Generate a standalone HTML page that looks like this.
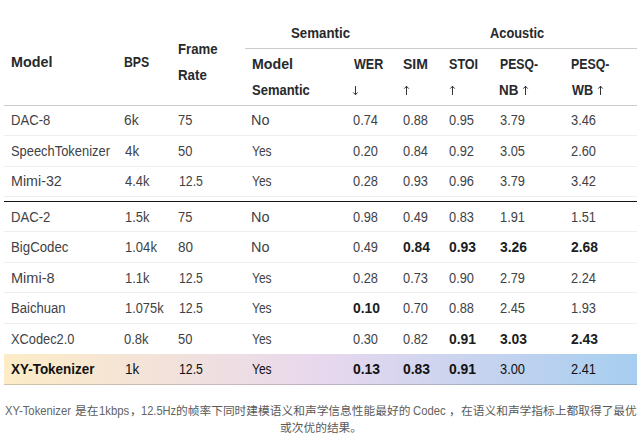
<!DOCTYPE html>
<html lang="zh">
<head>
<meta charset="utf-8">
<title>XY-Tokenizer comparison</title>
<style>
html,body{margin:0;padding:0;background:#fff;}
body{width:642px;height:446px;position:relative;overflow:hidden;font-family:"Liberation Sans",sans-serif;font-size:14px;color:#3f4245;}
table{position:absolute;left:4px;top:17px;width:633px;border-collapse:separate;border-spacing:0;table-layout:fixed;}
th,td{padding:0;margin:0;position:relative;box-sizing:border-box;text-align:left;font-weight:normal;vertical-align:top;}
th{color:#27292c;font-weight:bold;}
.t{position:absolute;line-height:16px;white-space:nowrap;transform-origin:0 0;display:block;}
.ar{position:absolute;display:block;overflow:visible;}
thead tr.h1 th{height:32px;}
thead tr.h2 th{height:57px;border-bottom:1px solid #ccc;}
thead th.rs{border-bottom:1px solid #ccc;}
thead th.grp{border-bottom:1px solid #ccc;}
tbody td{border-bottom:1px solid #efefef;}
tr.gap td{height:5px;border-bottom:1px solid #141414;}
tr.hl{background:linear-gradient(90deg,#fdecc6 0%,#e8d8ee 50%,#a6cef0 100%);}
tr.nb td{border-bottom-color:transparent;}
tr.hl td{border-bottom:1px solid rgba(90,90,90,.28);}
.cap{position:absolute;left:0;top:0;width:642px;height:0;color:#646464;font-size:12.3px;}
.cap .t{line-height:14px;}
.cap svg{position:absolute;display:block;}
.cap svg text{font-family:"Liberation Sans","Noto Sans CJK SC",sans-serif;}
.sr{position:absolute;left:0;top:0;width:1px;height:1px;overflow:hidden;clip-path:inset(50%);white-space:nowrap;font-size:1px;color:transparent;}
</style>
</head>
<body>
<table>
<colgroup><col style="width:113px"><col style="width:54px"><col style="width:74px"><col style="width:101px"><col style="width:50px"><col style="width:46px"><col style="width:50px"><col style="width:72px"><col style="width:73px"></colgroup>
<thead>
<tr class="h1"><th rowspan="2" class="rs"><span class="t" style="left:6.80px;top:37px;transform:scaleX(1.0234)">Model</span></th><th rowspan="2" class="rs"><span class="t" style="left:7.24px;top:37px;transform:scaleX(0.8755)">BPS</span></th><th rowspan="2" class="rs"><span class="t" style="left:6.98px;top:24px;transform:scaleX(0.9409)">Frame</span><span class="t" style="left:6.97px;top:50px;transform:scaleX(0.9501)">Rate</span></th><th colspan="2" class="grp"><span class="t" style="left:46.10px;top:8px;transform:scaleX(0.9486)">Semantic</span></th><th colspan="4" class="grp"><span class="t" style="left:93.62px;top:8px;transform:scaleX(0.9152)">Acoustic</span></th></tr>
<tr class="h2"><th><span class="t" style="left:6.61px;top:7px;transform:scaleX(1.0130)">Model</span><span class="t" style="left:7.21px;top:33px;transform:scaleX(0.9274)">Semantic</span></th><th><span class="t" style="left:7.60px;top:7px;transform:scaleX(0.8936)">WER</span><svg class="ar" style="left:6.20px;top:36.00px" width="7" height="11" viewBox="0 0 7 11"><path d="M3.5 1 V9.8 M1.3 7.4 L3.5 9.8 L5.7 7.4" fill="none" stroke="#27292c" stroke-width="0.95"/></svg></th><th><span class="t" style="left:6.98px;top:7px;transform:scaleX(1.0034)">SIM</span><svg class="ar" style="left:6.80px;top:36.00px" width="7" height="11" viewBox="0 0 7 11"><path d="M3.5 10.0 V1.2 M1.3 3.6 L3.5 1.2 L5.7 3.6" fill="none" stroke="#27292c" stroke-width="0.95"/></svg></th><th><span class="t" style="left:7.22px;top:7px;transform:scaleX(0.8977)">STOI</span><svg class="ar" style="left:6.90px;top:36.00px" width="7" height="11" viewBox="0 0 7 11"><path d="M3.5 10.0 V1.2 M1.3 3.6 L3.5 1.2 L5.7 3.6" fill="none" stroke="#27292c" stroke-width="0.95"/></svg></th><th><span class="t" style="left:7.55px;top:7px;transform:scaleX(0.8714)">PESQ-</span><span class="t" style="left:7.46px;top:33px;transform:scaleX(0.9560)">NB</span><svg class="ar" style="left:29.90px;top:36.00px" width="7" height="11" viewBox="0 0 7 11"><path d="M3.5 10.0 V1.2 M1.3 3.6 L3.5 1.2 L5.7 3.6" fill="none" stroke="#27292c" stroke-width="0.95"/></svg></th><th><span class="t" style="left:7.14px;top:7px;transform:scaleX(0.8810)">PESQ-</span><span class="t" style="left:8.00px;top:33px;transform:scaleX(0.9039)">WB</span><svg class="ar" style="left:32.80px;top:36.00px" width="7" height="11" viewBox="0 0 7 11"><path d="M3.5 10.0 V1.2 M1.3 3.6 L3.5 1.2 L5.7 3.6" fill="none" stroke="#27292c" stroke-width="0.95"/></svg></th></tr>
</thead>
<tbody>
<tr><td style="height:30px"><span class="t" style="left:6.75px;top:6px;transform:scaleX(0.9350)">DAC-8</span></td><td><span class="t" style="left:7.21px;top:6px;transform:scaleX(0.9857)">6k</span></td><td><span class="t" style="left:7.26px;top:6px;transform:scaleX(0.9174)">75</span></td><td><span class="t" style="left:6.34px;top:6px;transform:scaleX(1.0345)">No</span></td><td><span class="t" style="left:6.60px;top:6px;transform:scaleX(0.9160)">0.74</span></td><td><span class="t" style="left:6.80px;top:6px;transform:scaleX(0.9160)">0.88</span></td><td><span class="t" style="left:6.80px;top:6px;transform:scaleX(0.9160)">0.95</span></td><td><span class="t" style="left:7.60px;top:6px;transform:scaleX(0.9160)">3.79</span></td><td><span class="t" style="left:7.20px;top:6px;transform:scaleX(0.9160)">3.46</span></td></tr>
<tr><td style="height:31px"><span class="t" style="left:7.16px;top:7px;transform:scaleX(0.9211)">SpeechTokenizer</span></td><td><span class="t" style="left:7.63px;top:7px;transform:scaleX(0.9570)">4k</span></td><td><span class="t" style="left:7.38px;top:7px;transform:scaleX(0.9223)">50</span></td><td><span class="t" style="left:6.64px;top:7px;transform:scaleX(0.8599)">Yes</span></td><td><span class="t" style="left:6.60px;top:7px;transform:scaleX(0.9160)">0.20</span></td><td><span class="t" style="left:6.80px;top:7px;transform:scaleX(0.9160)">0.84</span></td><td><span class="t" style="left:6.80px;top:7px;transform:scaleX(0.9160)">0.92</span></td><td><span class="t" style="left:7.60px;top:7px;transform:scaleX(0.9160)">3.05</span></td><td><span class="t" style="left:7.20px;top:7px;transform:scaleX(0.9160)">2.60</span></td></tr>
<tr><td style="height:30px"><span class="t" style="left:6.66px;top:6px;transform:scaleX(1.0204)">Mimi-32</span></td><td><span class="t" style="left:7.64px;top:6px;transform:scaleX(0.9206)">4.4k</span></td><td><span class="t" style="left:7.62px;top:6px;transform:scaleX(0.8791)">12.5</span></td><td><span class="t" style="left:6.64px;top:6px;transform:scaleX(0.8599)">Yes</span></td><td><span class="t" style="left:6.60px;top:6px;transform:scaleX(0.9160)">0.28</span></td><td><span class="t" style="left:6.80px;top:6px;transform:scaleX(0.9160)">0.93</span></td><td><span class="t" style="left:6.80px;top:6px;transform:scaleX(0.9160)">0.96</span></td><td><span class="t" style="left:7.60px;top:6px;transform:scaleX(0.9160)">3.79</span></td><td><span class="t" style="left:7.20px;top:6px;transform:scaleX(0.9160)">3.42</span></td></tr>
<tr class="gap"><td colspan="9"></td></tr>
<tr><td style="height:30px"><span class="t" style="left:6.75px;top:7px;transform:scaleX(0.9383)">DAC-2</span></td><td><span class="t" style="left:7.57px;top:7px;transform:scaleX(0.9234)">1.5k</span></td><td><span class="t" style="left:7.26px;top:7px;transform:scaleX(0.9174)">75</span></td><td><span class="t" style="left:6.34px;top:7px;transform:scaleX(1.0345)">No</span></td><td><span class="t" style="left:6.60px;top:7px;transform:scaleX(0.9160)">0.98</span></td><td><span class="t" style="left:6.80px;top:7px;transform:scaleX(0.9160)">0.49</span></td><td><span class="t" style="left:6.80px;top:7px;transform:scaleX(0.9160)">0.83</span></td><td><span class="t" style="left:7.60px;top:7px;transform:scaleX(0.9160)">1.91</span></td><td><span class="t" style="left:7.20px;top:7px;transform:scaleX(0.9160)">1.51</span></td></tr>
<tr><td style="height:31px"><span class="t" style="left:6.74px;top:7px;transform:scaleX(0.9456)">BigCodec</span></td><td><span class="t" style="left:7.56px;top:7px;transform:scaleX(0.9313)">1.04k</span></td><td><span class="t" style="left:6.76px;top:7px;transform:scaleX(0.9639)">80</span></td><td><span class="t" style="left:6.34px;top:7px;transform:scaleX(1.0345)">No</span></td><td><span class="t" style="left:6.60px;top:7px;transform:scaleX(0.9160)">0.49</span></td><td><span class="t" style="left:6.80px;top:7px;transform:scaleX(0.9920);color:#1a1d21"><b>0.84</b></span></td><td><span class="t" style="left:6.80px;top:7px;transform:scaleX(0.9920);color:#1a1d21"><b>0.93</b></span></td><td><span class="t" style="left:7.60px;top:7px;transform:scaleX(0.9920);color:#1a1d21"><b>3.26</b></span></td><td><span class="t" style="left:7.20px;top:7px;transform:scaleX(0.9920);color:#1a1d21"><b>2.68</b></span></td></tr>
<tr><td style="height:30px"><span class="t" style="left:6.64px;top:7px;transform:scaleX(1.0378)">Mimi-8</span></td><td><span class="t" style="left:7.57px;top:7px;transform:scaleX(0.9234)">1.1k</span></td><td><span class="t" style="left:7.62px;top:7px;transform:scaleX(0.8791)">12.5</span></td><td><span class="t" style="left:6.64px;top:7px;transform:scaleX(0.8599)">Yes</span></td><td><span class="t" style="left:6.60px;top:7px;transform:scaleX(0.9160)">0.28</span></td><td><span class="t" style="left:6.80px;top:7px;transform:scaleX(0.9160)">0.73</span></td><td><span class="t" style="left:6.80px;top:7px;transform:scaleX(0.9160)">0.90</span></td><td><span class="t" style="left:7.60px;top:7px;transform:scaleX(0.9160)">2.79</span></td><td><span class="t" style="left:7.20px;top:7px;transform:scaleX(0.9160)">2.24</span></td></tr>
<tr><td style="height:31px"><span class="t" style="left:6.75px;top:7px;transform:scaleX(0.9358)">Baichuan</span></td><td><span class="t" style="left:7.77px;top:7px;transform:scaleX(0.9173)">1.075k</span></td><td><span class="t" style="left:7.62px;top:7px;transform:scaleX(0.8791)">12.5</span></td><td><span class="t" style="left:6.64px;top:7px;transform:scaleX(0.8599)">Yes</span></td><td><span class="t" style="left:6.60px;top:7px;transform:scaleX(0.9920);color:#1a1d21"><b>0.10</b></span></td><td><span class="t" style="left:6.80px;top:7px;transform:scaleX(0.9160)">0.70</span></td><td><span class="t" style="left:6.80px;top:7px;transform:scaleX(0.9160)">0.88</span></td><td><span class="t" style="left:7.60px;top:7px;transform:scaleX(0.9160)">2.45</span></td><td><span class="t" style="left:7.20px;top:7px;transform:scaleX(0.9160)">1.93</span></td></tr>
<tr class="nb"><td style="height:30px"><span class="t" style="left:6.72px;top:7px;transform:scaleX(0.9148)">XCodec2.0</span></td><td><span class="t" style="left:7.38px;top:7px;transform:scaleX(0.9305)">0.8k</span></td><td><span class="t" style="left:7.38px;top:7px;transform:scaleX(0.9223)">50</span></td><td><span class="t" style="left:6.64px;top:7px;transform:scaleX(0.8599)">Yes</span></td><td><span class="t" style="left:6.60px;top:7px;transform:scaleX(0.9160)">0.30</span></td><td><span class="t" style="left:6.80px;top:7px;transform:scaleX(0.9160)">0.82</span></td><td><span class="t" style="left:6.80px;top:7px;transform:scaleX(0.9920);color:#1a1d21"><b>0.91</b></span></td><td><span class="t" style="left:7.60px;top:7px;transform:scaleX(0.9920);color:#1a1d21"><b>3.03</b></span></td><td><span class="t" style="left:7.20px;top:7px;transform:scaleX(0.9920);color:#1a1d21"><b>2.43</b></span></td></tr>
<tr class="hl"><td style="height:31px"><span class="t" style="left:6.97px;top:7px;transform:scaleX(0.9605);color:#111"><b>XY-Tokenizer</b></span></td><td><span class="t" style="left:7.52px;top:7px;transform:scaleX(0.9647);color:#111">1k</span></td><td><span class="t" style="left:7.62px;top:7px;transform:scaleX(0.8791);color:#111">12.5</span></td><td><span class="t" style="left:6.64px;top:7px;transform:scaleX(0.8599);color:#111">Yes</span></td><td><span class="t" style="left:6.60px;top:7px;transform:scaleX(0.9920);color:#111"><b>0.13</b></span></td><td><span class="t" style="left:6.80px;top:7px;transform:scaleX(0.9920);color:#111"><b>0.83</b></span></td><td><span class="t" style="left:6.80px;top:7px;transform:scaleX(0.9920);color:#111"><b>0.91</b></span></td><td><span class="t" style="left:7.60px;top:7px;transform:scaleX(0.9160);color:#111">3.00</span></td><td><span class="t" style="left:7.20px;top:7px;transform:scaleX(0.9160);color:#111">2.41</span></td></tr>
</tbody>
</table>
<div class="cap">
<span class="t" style="left:4.71px;top:404px;transform:scaleX(0.9159)">XY-Tokenizer</span>
<span class="t" style="left:98.99px;top:404px;transform:scaleX(0.9214)">1kbps</span>
<span class="t" style="left:141.31px;top:404px;transform:scaleX(0.9013)">12.5Hz</span>
<span class="t" style="left:413.13px;top:404px;transform:scaleX(0.9201)">Codec</span>
<svg class="cj" role="img" aria-label="是在" style="left:75.10px;top:403.86px" width="23.46" height="14.08" viewBox="0 -950 2000 1200"><text x="0" y="0" font-size="1000" fill="#5a5a5a">是在</text></svg>
<svg class="cj" role="img" aria-label="，" style="left:129.60px;top:403.86px" width="11.73" height="14.08" viewBox="0 -950 1000 1200"><text x="0" y="0" font-size="1000" fill="#5a5a5a">，</text></svg>
<svg class="cj" role="img" aria-label="的帧率下同时建模语义和声学信息性能最好的" style="left:176.00px;top:403.86px" width="234.60" height="14.08" viewBox="0 -950 20000 1200"><text x="0" y="0" font-size="1000" fill="#5a5a5a">的帧率下同时建模语义和声学信息性能最好的</text></svg>
<svg class="cj" role="img" aria-label="，" style="left:448.90px;top:403.86px" width="11.73" height="14.08" viewBox="0 -950 1000 1200"><text x="0" y="0" font-size="1000" fill="#5a5a5a">，</text></svg>
<svg class="cj" role="img" aria-label="在语义和声学指标上都取得了最优" style="left:460.80px;top:403.86px" width="175.95" height="14.08" viewBox="0 -950 15000 1200"><text x="0" y="0" font-size="1000" fill="#5a5a5a">在语义和声学指标上都取得了最优</text></svg>
<svg class="cj" role="img" aria-label="或次优的结果。" style="left:279.50px;top:421.46px" width="82.11" height="14.08" viewBox="0 -950 7000 1200"><text x="0" y="0" font-size="1000" fill="#5a5a5a">或次优的结果。</text></svg>
<span class="sr">XY-Tokenizer 是在1kbps，12.5Hz的帧率下同时建模语义和声学信息性能最好的 Codec ，在语义和声学指标上都取得了最优或次优的结果。</span>
</div>
</body>
</html>
